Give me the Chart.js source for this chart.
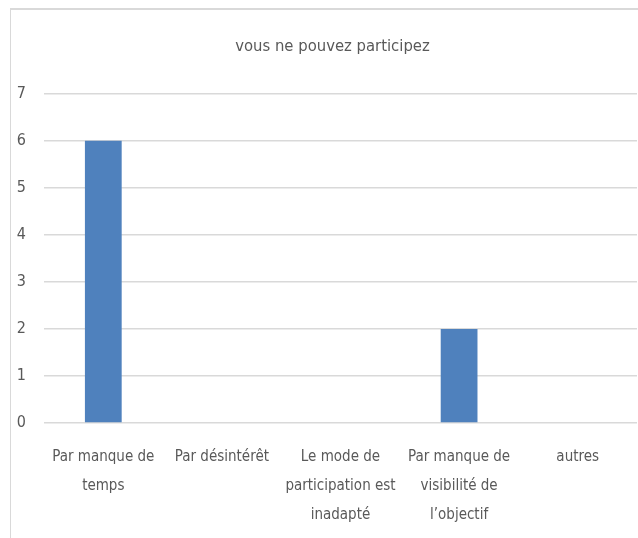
<!DOCTYPE html>
<html>
<head>
<meta charset="utf-8">
<script src="https://cdn.jsdelivr.net/npm/chart.js@4/dist/chart.umd.min.js"></script>
<style>
  html, body { margin: 0; padding: 0; background: #ffffff; }
  #wrap { position: relative; width: 638px; height: 538px; overflow: hidden; }
  #frame { position: absolute; left: 10px; top: 8px; width: 640px; height: 540px;
           border-left: 1px solid #d9d9d9; border-top: 2px solid #d9d9d9; box-sizing: border-box; }
  canvas { position: absolute; left: 0; top: 0; }
</style>
</head>
<body>
<div id="wrap">
  <div id="frame"></div>
  <canvas id="c" width="638" height="538"></canvas>
</div>
<script>
const title = "vous ne pouvez participez";
const categories = [
  ["Par manque de", "temps"],
  "Par désintérêt",
  ["Le mode de", "participation est", "inadapté"],
  ["Par manque de", "visibilité de", "l\u2019objectif"],
  "autres"
];
const values = [6, 0, 0, 2, 0];
const yTicks = [0, 1, 2, 3, 4, 5, 6, 7];

const FONT = "'DejaVu Sans', sans-serif";
const W = "normal condensed";
const TEXT = "#595959";

// let the y tick labels use the space left of the axis box
const widenY = {
  id: "widenY",
  afterLayout(chart) { chart.scales.y.left = 0; }
};

new Chart(document.getElementById("c"), {
  type: "bar",
  data: {
    labels: categories,
    datasets: [{
      data: values,
      backgroundColor: "#4f81bd",
      borderWidth: 0,
      categoryPercentage: 1,
      barPercentage: 0.31
    }]
  },
  options: {
    responsive: false,
    animation: false,
    devicePixelRatio: 1,
    layout: { padding: { left: 28, right: 1, top: 0, bottom: 0 } },
    plugins: {
      legend: { display: false },
      tooltip: { enabled: false },
      title: {
        display: true,
        text: title,
        color: TEXT,
        font: { family: FONT, size: 16.5, weight: W, lineHeight: 1.2 },
        padding: { top: 37, bottom: 37 }
      }
    },
    scales: {
      x: {
        grid: { display: false, drawTicks: false },
        border: { display: false },
        ticks: {
          color: TEXT,
          font: { family: FONT, size: 15, weight: W, lineHeight: 1.95 },
          padding: 19,
          maxRotation: 0,
          autoSkip: false
        },
        afterFit: (s) => { s.height = 115; }
      },
      y: {
        min: 0,
        max: 7,
        afterBuildTicks: (s) => { s.ticks = yTicks.map(v => ({ value: v })); },
        grid: { color: "#d9d9d9", lineWidth: 1.5, drawTicks: false },
        border: { display: false },
        ticks: {
          color: TEXT,
          font: { family: FONT, size: 16, weight: W },
          padding: 18
        },
        afterFit: (s) => { s.width = 16; }
      }
    }
  },
  plugins: [widenY]
});
</script>
</body>
</html>
